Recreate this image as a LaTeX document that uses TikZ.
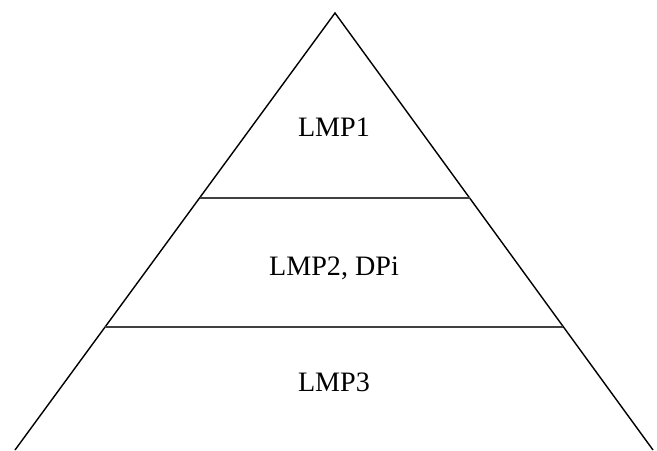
\documentclass[tikz,border=0pt]{standalone}
\usepackage{fontspec}
\setmainfont{Liberation Serif}
\usetikzlibrary{calc}
\tikzset{layer/.style={font=\fontsize{16}{19}\selectfont}}

\begin{document}
\begin{tikzpicture}
\useasboundingbox (0,0) rectangle (13.14,9);
\coordinate (top) at (6.70,8.74);
\coordinate (bl) at (0.30,0);
\coordinate (br) at (13.06,0);
% sides
\draw [line width=0.8pt] (bl) -- (top) -- (br);
% level dividers
\coordinate (d1l) at ($(top)!0.4233!(bl)$);
\coordinate (d1r) at ($(top)!0.4233!(br)$);
\coordinate (d2l) at ($(top)!0.7185!(bl)$);
\coordinate (d2r) at ($(top)!0.7185!(br)$);
\draw [line width=0.6pt,black!75] (d1l) -- (d1r);
\draw [line width=0.6pt,black!75] (d2l) -- (d2r);
\node [layer] (lmp1) at (6.68,6.46) {LMP1};
\node [layer] (lmp2) at (6.68,3.64) {LMP2, DPi};
\node [layer] (lmp3) at (6.68,1.36) {LMP3};
\end{tikzpicture}
\end{document}
